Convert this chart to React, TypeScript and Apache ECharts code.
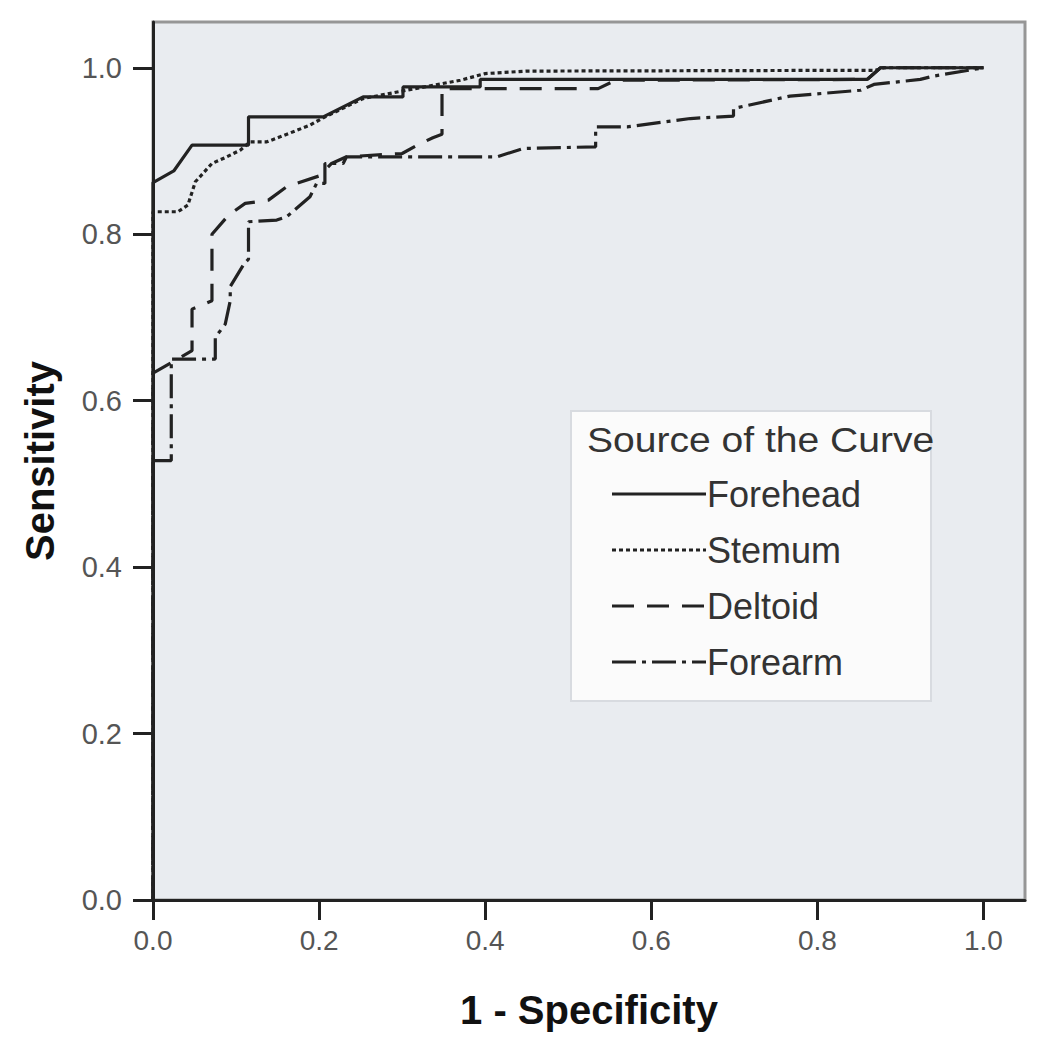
import React, { useEffect, useRef } from "react";
import * as echarts from "echarts";

const seriesNames = ["Forehead", "Stemum", "Deltoid", "Forearm"];

const foreheadX = [0, 0, 0.025, 0.047, 0.115, 0.115, 0.205, 0.253, 0.301, 0.301, 0.394, 0.394, 0.86, 0.876, 1.0];
const foreheadY = [0, 0.862, 0.876, 0.907, 0.907, 0.941, 0.941, 0.965, 0.965, 0.977, 0.977, 0.986, 0.986, 1.0, 1.0];

const stemumX = [0, 0, 0.03, 0.042, 0.051, 0.071, 0.089, 0.105, 0.117, 0.137, 0.153, 0.189, 0.205, 0.253, 0.3, 0.37, 0.4, 0.45, 0.87, 0.88, 1.0];
const stemumY = [0, 0.827, 0.827, 0.835, 0.863, 0.885, 0.893, 0.901, 0.911, 0.911, 0.917, 0.931, 0.94, 0.963, 0.972, 0.985, 0.993, 0.996, 0.997, 1.0, 1.0];

const deltoidX = [0, 0, 0.047, 0.047, 0.071, 0.071, 0.091, 0.111, 0.139, 0.161, 0.2, 0.215, 0.233, 0.3, 0.318, 0.337, 0.348, 0.348, 0.536, 0.557, 0.86, 0.876, 1.0];
const deltoidY = [0, 0.633, 0.66, 0.71, 0.72, 0.8, 0.823, 0.837, 0.841, 0.857, 0.87, 0.885, 0.893, 0.897, 0.907, 0.916, 0.92, 0.975, 0.975, 0.985, 0.986, 1.0, 1.0];

const forearmX = [0, 0, 0.022, 0.022, 0.075, 0.075, 0.087, 0.093, 0.093, 0.11, 0.115, 0.115, 0.149, 0.161, 0.189, 0.197, 0.207, 0.207, 0.229, 0.233, 0.414, 0.446, 0.533, 0.533, 0.571, 0.647, 0.699, 0.699, 0.767, 0.852, 0.868, 0.924, 0.94, 1.0];
const forearmY = [0, 0.528, 0.528, 0.65, 0.65, 0.676, 0.692, 0.72, 0.737, 0.765, 0.77, 0.815, 0.817, 0.821, 0.845, 0.861, 0.861, 0.885, 0.885, 0.893, 0.893, 0.903, 0.905, 0.929, 0.929, 0.939, 0.942, 0.951, 0.966, 0.973, 0.98, 0.986, 0.99, 1.0];

const tickValues = [0, 0.2, 0.4, 0.6, 0.8, 1.0];

const xs = [foreheadX, stemumX, deltoidX, forearmX];
const ys = [foreheadY, stemumY, deltoidY, forearmY];
const dashes: (number[] | "solid")[] = ["solid", [4, 3], [22, 13], [24, 6, 4, 6]];

const FONT = "Liberation Sans, Arial, sans-serif";

export default function App() {
  const ref = useRef<HTMLDivElement>(null);
  useEffect(() => {
    if (!ref.current) return;
    const chart = echarts.init(ref.current, null, { renderer: "svg" });
    const lineColor = "#222";
    const series = seriesNames.map((name, i) => ({
      name,
      type: "line",
      data: xs[i].map((x, j) => [x, ys[i][j]]),
      showSymbol: false,
      symbol: "none",
      lineStyle: { color: lineColor, width: 3.2, type: dashes[i] },
      itemStyle: { color: lineColor },
      z: 10 - i,
    }));
    const legendGraphics: any[] = [
      {
        type: "rect",
        left: 570,
        top: 410,
        shape: { width: 360, height: 290 },
        style: { fill: "#fbfbfb", stroke: "#d8dbe0", lineWidth: 2 },
        z: 100,
      },
      {
        type: "text",
        x: 587,
        y: 440,
        scaleX: 1.085,
        style: { text: "Source of the Curve", fontSize: 36, fill: "#333", fontFamily: FONT, verticalAlign: "middle", align: "left" },
        z: 101,
      },
    ];
    seriesNames.forEach((name, i) => {
      const cy = 494 + i * 56;
      legendGraphics.push({
        type: "line",
        shape: { x1: 612, y1: cy, x2: 706, y2: cy },
        style: { stroke: lineColor, lineWidth: 3.2, lineDash: dashes[i] === "solid" ? null : dashes[i] },
        z: 101,
      });
      legendGraphics.push({
        type: "text",
        x: 707,
        y: cy,
        style: { text: name, fontSize: 36, fill: "#333", fontFamily: FONT, verticalAlign: "middle", align: "left" },
        z: 101,
      });
    });
    chart.setOption({
      animation: false,
      backgroundColor: "#ffffff",
      grid: {
        left: 153,
        right: 16,
        top: 22,
        bottom: 150,
        show: true,
        backgroundColor: "#e9ecf0",
        borderColor: "#969696",
        borderWidth: 3,
      },
      xAxis: {
        type: "value",
        min: 0,
        max: 1.05,
        interval: 0.2,
        name: "1 - Specificity",
        nameLocation: "middle",
        nameGap: 90,
        nameTextStyle: { fontSize: 40, fontWeight: "bold", color: "#111", fontFamily: FONT },
        axisLine: { show: true, lineStyle: { color: "#222", width: 3 } },
        axisTick: { show: true, inside: false, length: 20, lineStyle: { color: "#222", width: 3 }, customValues: tickValues },
        axisLabel: { color: "#555", fontSize: 28, fontFamily: FONT, margin: 26, customValues: tickValues, formatter: (v: number) => v.toFixed(1) },
        splitLine: { show: false },
      },
      yAxis: {
        type: "value",
        min: 0,
        max: 1.055,
        interval: 0.2,
        name: "Sensitivity",
        nameLocation: "middle",
        nameGap: 93,
        nameRotate: 90,
        nameTextStyle: { fontSize: 40, fontWeight: "bold", color: "#111", fontFamily: FONT },
        axisLine: { show: true, lineStyle: { color: "#222", width: 3 } },
        axisTick: { show: true, inside: false, length: 20, lineStyle: { color: "#222", width: 3 }, customValues: tickValues },
        axisLabel: { color: "#555", fontSize: 29, fontFamily: FONT, margin: 31, customValues: tickValues, formatter: (v: number) => v.toFixed(1) },
        splitLine: { show: false },
      },
      graphic: legendGraphics,
      series,
    });
    return () => chart.dispose();
  }, []);
  return <div ref={ref} style={{ position: "absolute", left: 0, top: 0, width: 1041, height: 1050 }} />;
}
